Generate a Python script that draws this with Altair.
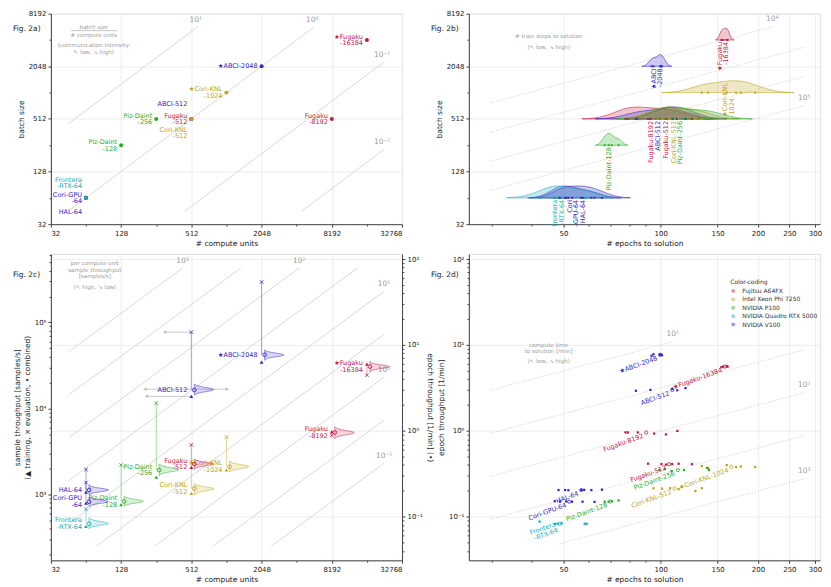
import altair as alt
import numpy as np
import pandas as pd

FONT = "DejaVu Sans"
GRAY = "#9b9b9b"
LINE_GRAY = "#c8c8c8"

# ---------------- data ----------------
system_names = ["Fujitsu A64FX", "Intel Xeon Phi 7250", "NVIDIA P100",
                "NVIDIA Quadro RTX 5000", "NVIDIA V100"]
system_colors = ["#c3173f", "#bba319", "#25ad25", "#19adb6", "#3522c4"]

configs = ["Fugaku-16384", "Fugaku-8192", "Fugaku-512", "ABCI-2048", "ABCI-512",
           "HAL-64", "Cori-GPU-64", "Cori-KNL-1024", "Cori-KNL-512",
           "Piz-Daint-256", "Piz-Daint-128", "Frontera-RTX-64"]
systems = ["Fujitsu A64FX"] * 3 + ["NVIDIA V100"] * 4 + ["Intel Xeon Phi 7250"] * 2 + \
          ["NVIDIA P100"] * 2 + ["NVIDIA Quadro RTX 5000"]
units = [16384, 8192, 512, 2048, 512, 64, 64, 1024, 512, 256, 128, 64]
batch = [4096, 512, 512, 2048, 512, 64, 64, 1024, 512, 512, 256, 64]

labels_ac = ["★Fugaku\n-16384", "Fugaku\n-8192", "Fugaku\n-512", "★ABCI-2048", "ABCI-512",
             "HAL-64", "Cori-GPU\n-64", "★Cori-KNL\n-1024", "Cori-KNL\n-512",
             "Piz-Daint\n-256", "Piz-Daint\n-128", "Frontera\n-RTX-64"]
place_a = ["left", "left", "left", "left", "above", "below", "left", "left", "below",
           "left", "left", "above"]

labels_b = ["★Fugaku\n-16384", "Fugaku-8192", "Fugaku-512", "★ABCI\n-2048", "ABCI-512",
            "HAL-64", "Cori\n-GPU-64", "★Cori-KNL\n-1024", "Cori-KNL-512",
            "Piz-Daint-256", "Piz-Daint-128", "Frontera\n-RTX-64"]
label_b_epochs = [156, 93, 104, 97.5, 98, 57.5, 53.5, 162, 110, 115, 69, 48.3]
label_b_batch = [4096, 512, 512, 2048, 512, 64, 64, 512, 512, 512, 256, 64]
label_b_dir = ["down"] * 7 + ["up"] + ["down"] * 4

labels_d = ["★Fugaku-16384", "Fugaku-8192", "Fugaku-512", "★ABCI-2048", "ABCI-512",
            "HAL-64", "Cori-GPU-64", "★Cori-KNL-1024", "Cori-KNL-512",
            "Piz-Daint-256", "Piz-Daint-128", "Frontera\n-RTX-64"]

# sample throughput [samples/s]
train_tput = [32700, 5370, 2060, 34400, 13800, 1060, 790, 1920, 1020, 1585, 755, 422]
eval_tput = [24300, 4840, 3760, 296000, 77000, 1940, 1370, 4630, 2400, 11500, 2190, 675]

# per-run epochs to solution and epoch throughput [1/min]
run_epochs = [
    [154, 156, 160, 161],
    [77.8, 79.1, 84.9, 95.4, 103.8, 112.6],
    [91.4, 100.5, 103.8, 108.6, 113.6, 124.9],
    [93.7, 95.0, 99.5, 100.2, 100.9],
    [83.8, 92.9, 108.6, 112.5, 119.3],
    [48.3, 50.6, 51.8, 56.8, 58, 61, 65.8],
    [47, 48.8, 51, 53.2, 57.3, 62.4],
    [134, 140, 160, 171, 177, 196],
    [95, 101, 107, 113.6, 128, 134],
    [99, 103, 108, 118, 139, 141],
    [67.1, 69.0, 70.6, 74.1],
    [42.2, 47.1, 48.0, 49.4, 58.2, 59.0],
]
run_thr = [
    [5.5, 5.6, 5.65, 5.6],
    [0.96, 0.96, 0.96, 0.93, 0.91, 1.0],
    [0.415, 0.41, 0.405, 0.41, 0.415, 0.41],
    [7.5, 7.8, 7.7, 7.7, 7.6],
    [2.93, 3.0, 3.09, 2.97, 3.15],
    [0.205, 0.205, 0.204, 0.205, 0.206, 0.205, 0.207],
    [0.152, 0.15, 0.151, 0.15, 0.15, 0.149],
    [0.39, 0.37, 0.40, 0.38, 0.385, 0.38],
    [0.215, 0.213, 0.215, 0.21, 0.2, 0.215],
    [0.35, 0.36, 0.34, 0.35, 0.37, 0.35],
    [0.15, 0.15, 0.152, 0.155],
    [0.088, 0.083, 0.083, 0.084, 0.083, 0.083],
]

TRAIN_SAMPLES = 262144
ALL_SAMPLES = 327680
SAMPLES_PER_EPOCHMIN = ALL_SAMPLES / 60.0

ratios_a = [10, 1, 0.1, 0.01]
ratios_a_lab = ["10¹", "10⁰", "10⁻¹", "10⁻²"]
steps_b = [1e4, 2.154e4, 4.642e4, 1e5]
steps_b_lab = ["10⁴", "", "", "10⁵"]
perunit_c = [1000, 316.2, 100, 31.62, 10, 3.162, 1, 0.3162, 0.1]
perunit_c_lab = ["10³", "", "10²", "", "10¹", "", "10⁰", "", "10⁻¹"]
time_d = [10, 31.62, 100, 316.2, 1000]
time_d_lab = ["10¹", "", "10²", "", "10³"]

arrow_y = [77000, 16700, 16700, 13800]
arrow_from = [512, 512, 560, 512]
arrow_to = [302, 205, 1040, 211]

# tick values
units_ticks = [32, 128, 512, 2048, 8192, 32768]
units_minor = [64, 256, 1024, 4096, 16384]
batch_ticks = [32, 128, 512, 2048, 8192]
batch_minor = [64, 256, 1024, 4096]
epoch_ticks = [50, 100, 150, 200, 250, 300]
epoch_minor = [30, 40, 60, 70, 80, 90]
samples_ticks = [1e3, 1e4, 1e5]
samples_minor = [200, 300, 400, 500, 600, 700, 800, 900,
                 2e3, 3e3, 4e3, 5e3, 6e3, 7e3, 8e3, 9e3,
                 2e4, 3e4, 4e4, 5e4, 6e4, 7e4, 8e4, 9e4,
                 2e5, 3e5, 4e5, 5e5, 6e5]
thr_ticks = [0.1, 1, 10, 100]
thr_minor = [0.04, 0.05, 0.06, 0.07, 0.08, 0.09,
             0.2, 0.3, 0.4, 0.5, 0.6, 0.7, 0.8, 0.9,
             2, 3, 4, 5, 6, 7, 8, 9,
             20, 30, 40, 50, 60, 70, 80, 90]

# ---------------- tables ----------------
base = pd.DataFrame(dict(config=configs, system=systems, units=units, batch=batch,
                         lab_ac=labels_ac, place=place_a, lab_d=labels_d,
                         train=train_tput, evalv=eval_tput))
base["med_epochs"] = [float(np.median(e)) for e in run_epochs]
base["med_thr"] = [float(np.median(t)) for t in run_thr]
base["med_samples"] = base["med_thr"] * SAMPLES_PER_EPOCHMIN

runs = pd.DataFrame([dict(config=c, system=s, units=u, batch=b, epochs=e, thr=t)
                     for c, s, u, b, es, ts in zip(configs, systems, units, batch, run_epochs, run_thr)
                     for e, t in zip(es, ts)])

blab = pd.DataFrame(dict(config=configs, system=systems, text=labels_b,
                         epochs=label_b_epochs, batch=label_b_batch, dir=label_b_dir))

conn = pd.concat([
    pd.DataFrame(dict(config=configs, system=systems, units=units, s=eval_tput, o=0)),
    pd.DataFrame(dict(config=configs, system=systems, units=units, s=list(base["med_samples"]), o=1)),
])

arrows = pd.DataFrame(dict(y=arrow_y, x0=arrow_from, x1=arrow_to))
arrows["head"] = np.where(arrows["x1"] < arrows["x0"], "triangle-left", "triangle-right")


def diag_df(ks, labs, xr, yr):
    rows = []
    for i, (k, lb) in enumerate(zip(ks, labs)):
        x0 = max(xr[0], yr[0] / k)
        x1 = min(xr[1], yr[1] / k)
        rows.append(dict(line=i, x=x0, y=x0 * k, lab="", end=0))
        rows.append(dict(line=i, x=x1, y=x1 * k, lab=lb, end=1))
    return pd.DataFrame(rows)


diag_a = diag_df(ratios_a, ratios_a_lab, (45, 23000), (45, 5800))
diag_b = diag_df([TRAIN_SAMPLES / s for s in steps_b], steps_b_lab, (29.7, 278), (45, 5800))
diag_c = diag_df(perunit_c, perunit_c_lab, (45.5, 23000), (247, 4.3e5))
diag_d = diag_df([1.0 / t for t in time_d], time_d_lab, (29.7, 278), (0.048, 10.9))

# ---------------- scales / axes ----------------
SUP = str.maketrans("-0123456789", "⁻⁰¹²³⁴⁵⁶⁷⁸⁹")


def sup(e):
    return "10" + str(e).translate(SUP)


def sup_expr(exps):
    parts = [f"abs(log(datum.value)/LN10 - ({e})) < 0.01 ? '{sup(e)}'" for e in exps]
    return " : ".join(parts) + " : ''"


sc_color = alt.Scale(domain=system_names, range=system_colors)
color_enc = alt.Color("system:N", scale=sc_color, legend=None)
stroke_enc = alt.Stroke("system:N", scale=sc_color, legend=None)

s_units = alt.Scale(type="log", base=2, domain=[32, 32768], nice=False)
s_batch = alt.Scale(type="log", base=2, domain=[32, 8192], nice=False)
s_epochs = alt.Scale(type="log", domain=[25.5, 311], nice=False)
s_samples = alt.Scale(type="log", domain=[170, 6.24e5], nice=False)
s_thr = alt.Scale(type="log", domain=[170 / SAMPLES_PER_EPOCHMIN, 6.24e5 / SAMPLES_PER_EPOCHMIN], nice=False)

ax_units = alt.Axis(orient="bottom", values=units_ticks, format="d", title="# compute units", grid=True)
ax_batch = alt.Axis(orient="left", values=batch_ticks, format="d", title="batch size", grid=True)
ax_epochs = alt.Axis(orient="bottom", values=epoch_ticks, format="d", title="# epochs to solution", grid=True)
ax_samples = alt.Axis(orient="left", values=samples_ticks, labelExpr=sup_expr([3, 4, 5]), grid=False,
                      title=["sample throughput [samples/s]", "(▲ training, × evaluation, • combined)"])
ax_thr_right = alt.Axis(orient="right", values=thr_ticks, labelExpr=sup_expr([-1, 0, 1, 2]),
                        title="epoch throughput [1/min] (•)", grid=True)
ax_thr_left = alt.Axis(orient="left", values=thr_ticks, labelExpr=sup_expr([-1, 0, 1, 2]),
                       title="epoch throughput [1/min]", grid=True)


def minor(orient, values):
    return alt.Axis(orient=orient, values=values, labels=False, grid=False, domain=False,
                    ticks=True, tickSize=1.8, title="")


one = pd.DataFrame({"k": [0]})
LH = 6.6
SINGLE = "indexof(datum.{f}, '\\n') < 0"
MULTI = "indexof(datum.{f}, '\\n') >= 0"


def note(text, x, y, size=5.6, color=GRAY, style="normal", align="center"):
    return alt.Chart(one).mark_text(text=text, align=align, baseline="middle", fontSize=size,
                                    color=color, font=FONT, fontStyle=style).encode(
        x=alt.value(x), y=alt.value(y))


def fig_label(text, x, y):
    return note(text, x, y, size=7.5, color="#222222", align="left")


def labels(df, field, x, y, filt=None, dy=0, **mk):
    """Two text layers: single-line labels and two-line labels centred on their anchor."""
    out = []
    for cond, shift in ((SINGLE, 0.0), (MULTI, -LH / 2)):
        c = alt.Chart(df)
        if filt:
            c = c.transform_filter(filt)
        c = c.transform_filter(cond.format(f=field)).mark_text(
            baseline="middle", fontSize=6.5, font=FONT, lineBreak="\n", lineHeight=LH,
            dy=dy + shift, **mk).encode(x=x, y=y, text=f"{field}:N", color=color_enc)
        out.append(c)
    return out


def diag_layers(df, xs, ys, xa, ya, dash=None, dy=-7, dx=0):
    """Reference lines (carrying the main axes) and their labels."""
    kw = dict(color=LINE_GRAY, strokeWidth=0.7)
    if dash is not None:
        kw["strokeDash"] = dash
    line = alt.Chart(df).mark_line(**kw).encode(
        x=alt.X("x:Q", scale=xs, axis=xa), y=alt.Y("y:Q", scale=ys, axis=ya), detail="line:N")
    txt = alt.Chart(df).transform_filter("datum.end == 1 && datum.lab != ''").mark_text(
        color=GRAY, fontSize=7.5, font=FONT, dy=dy, dx=dx).encode(
        x=alt.X("x:Q", scale=xs, axis=None), y=alt.Y("y:Q", scale=ys, axis=None), text="lab:N")
    return [line, txt]


def minor_layer(df, xs, ys, xa, ya):
    return alt.Chart(df).mark_point(opacity=0, size=1).encode(
        x=alt.X("x:Q", scale=xs, axis=xa), y=alt.Y("y:Q", scale=ys, axis=ya))


W, H1, H2 = 352, 211, 307

# ---------------- panel a ----------------
xa = alt.X("units:Q", scale=s_units, axis=None)
ya = alt.Y("batch:Q", scale=s_batch, axis=None)
pts_a = alt.Chart(base).mark_circle(size=16, opacity=1).encode(x=xa, y=ya, color=color_enc)

frac_rule = alt.Chart(one).mark_rule(color=GRAY, strokeWidth=0.6).encode(
    x=alt.value(20), x2=alt.value(66), y=alt.value(17))
panel_a = alt.layer(
    *diag_layers(diag_a, s_units, s_batch, ax_units, ax_batch, dx=-2),
    minor_layer(diag_a, s_units, s_batch, minor("bottom", units_minor), minor("left", batch_minor)),
    pts_a,
    *labels(base, "lab_ac", xa, ya, "datum.place == 'left'", 0, align="right", dx=-4),
    *labels(base, "lab_ac", xa, ya, "datum.place == 'above'", -15, align="right", dx=-4),
    *labels(base, "lab_ac", xa, ya, "datum.place == 'below'", 14, align="right", dx=-4),
    note("batch size", 43, 13, style="italic"), frac_rule,
    note("# compute units", 43, 21, style="italic"),
    note("(communication intensity:", 43, 31),
    note("↖ low, ↘ high)", 43, 38),
    fig_label("Fig. 2a)", -38, 15),
).resolve_axis(x="independent", y="independent").properties(width=W, height=H1)

# ---------------- panel b ----------------
xb = alt.X("epochs:Q", scale=s_epochs, axis=None)
yb = alt.Y("batch:Q", scale=s_batch, axis=None)
dens_b = alt.Chart(runs).transform_calculate(
    le="log(datum.epochs)/LN2"
).transform_density(
    "le", groupby=["config", "system", "batch"], extent=[float(np.log2(25.5)), float(np.log2(311))],
    steps=400, as_=["le", "density"]
).transform_joinaggregate(
    dmax="max(density)", groupby=["config"]
).transform_calculate(
    h="datum.density / datum.dmax", ep="pow(2, datum.le)",
    top="datum.batch * pow(2, 0.45 * datum.density / datum.dmax)"
).transform_filter("datum.h > 0.01").mark_area(
    fillOpacity=0.25, strokeWidth=0.7, strokeOpacity=0.85, clip=True
).encode(
    x=alt.X("ep:Q", scale=s_epochs, axis=None),
    y=alt.Y("top:Q", scale=s_batch, axis=None), y2="batch:Q",
    color=color_enc, stroke=stroke_enc, detail="config:N")
dots_b = alt.Chart(runs).mark_point(shape="square", filled=True, size=4, opacity=0.9).encode(
    x=xb, y=yb, color=color_enc)

panel_b = alt.layer(
    *diag_layers(diag_b, s_epochs, s_batch, ax_epochs, ax_batch, dash=[1.5, 1.5], dy=-8),
    minor_layer(diag_b, s_epochs, s_batch, minor("bottom", epoch_minor), minor("left", batch_minor)),
    dens_b, dots_b,
    *labels(blab, "text", xb, yb, "datum.dir == 'down'", 0, angle=270, align="right", dx=-2),
    *labels(blab, "text", xb, yb, "datum.dir == 'up'", 0, angle=270, align="left", dx=2),
    note("# train steps to solution", 80, 22),
    note("(↖ low, ↘ high)", 80, 33),
    fig_label("Fig. 2b)", -38, 15),
).resolve_axis(x="independent", y="independent").properties(width=W, height=H1)

# ---------------- panel c ----------------
xc = alt.X("units:Q", scale=s_units, axis=None)
arrow_rule = alt.Chart(arrows).mark_rule(color="#bdbdbd", strokeWidth=0.8).encode(
    x=alt.X("x0:Q", scale=s_units, axis=None), x2="x1:Q",
    y=alt.Y("y:Q", scale=s_samples, axis=None))
arrow_head = alt.Chart(arrows).mark_point(filled=True, size=14, color="#bdbdbd", opacity=1).encode(
    x=alt.X("x1:Q", scale=s_units, axis=None),
    y=alt.Y("y:Q", scale=s_samples, axis=None),
    shape=alt.Shape("head:N", scale=None))
conn_c = alt.Chart(conn).mark_line(strokeWidth=0.7, opacity=0.6).encode(
    x=xc, y=alt.Y("s:Q", scale=s_samples, axis=None), color=color_enc,
    detail="config:N", order="o:Q")
tri_c = alt.Chart(base).mark_point(shape="triangle-up", filled=True, size=14, opacity=1).encode(
    x=xc, y=alt.Y("train:Q", scale=s_samples, axis=None), color=color_enc)
x_c = alt.Chart(base).mark_point(shape="M-1,-1L1,1M-1,1L1,-1", filled=False, size=12,
                                 strokeWidth=0.9, opacity=0.9).encode(
    x=xc, y=alt.Y("evalv:Q", scale=s_samples, axis=None), color=color_enc)
yc_lab = alt.Y("med_samples:Q", scale=s_samples, axis=None)
left_c = alt.layer(
    *diag_layers(diag_c, s_units, s_samples, ax_units, ax_samples, dy=-7),
    minor_layer(diag_c, s_units, s_samples, minor("bottom", units_minor), minor("left", samples_minor)),
    arrow_rule, arrow_head, conn_c, tri_c, x_c,
    *labels(base, "lab_ac", xc, yc_lab, None, 0, align="right", dx=-4),
    note("per compute unit", 44, 9),
    note("sample throughput", 44, 15.5),
    note("[samples/s]", 44, 22),
    note("(↖ high, ↘ low)", 44, 33),
    fig_label("Fig. 2c)", -38, 21),
).resolve_axis(x="independent", y="independent")
dens_c = alt.Chart(runs).transform_calculate(
    lt="log(datum.thr)/LN10"
).transform_density(
    "lt", groupby=["config", "system", "units"], bandwidth=0.02,
    extent=[-1.5, 2.05], steps=500, as_=["lt", "density"]
).transform_joinaggregate(
    dmax="max(density)", groupby=["config"]
).transform_calculate(
    h="datum.density / datum.dmax", tv="pow(10, datum.lt)",
    xr="datum.units * pow(2, 0.55 * datum.density / datum.dmax)"
).transform_filter("datum.h > 0.01").mark_area(
    orient="horizontal", fillOpacity=0.18, strokeWidth=0.6, strokeOpacity=0.8, xOffset=3, x2Offset=3
).encode(
    y=alt.Y("tv:Q", scale=s_thr, axis=ax_thr_right),
    x=alt.X("xr:Q", scale=s_units, axis=None), x2="units:Q",
    color=color_enc, stroke=stroke_enc, detail="config:N")
circ_c = alt.Chart(base).mark_point(shape="circle", filled=False, size=14, strokeWidth=0.9,
                                    xOffset=3, opacity=1).encode(
    x=xc, y=alt.Y("med_thr:Q", scale=s_thr, axis=None), color=color_enc)
minor_c_right = alt.Chart(base).mark_point(opacity=0, size=1).encode(
    x=xc, y=alt.Y("med_thr:Q", scale=s_thr, axis=minor("right", thr_minor)))
right_c = alt.layer(dens_c, minor_c_right, circ_c).resolve_axis(y="independent")
panel_c = alt.layer(left_c, right_c).resolve_scale(y="independent").resolve_axis(
    x="independent").properties(width=W, height=H2)

# ---------------- panel d ----------------
legend_d = alt.Legend(title="Color-coding", orient="none", legendX=262, legendY=25,
                      symbolType="circle", symbolSize=16, symbolOpacity=0.45, symbolStrokeWidth=0,
                      labelFontSize=6, titleFontSize=6, titleFontWeight="normal",
                      labelFont=FONT, titleFont=FONT, rowPadding=2.4, padding=0, titlePadding=3,
                      labelColor="#333333", titleColor="#333333", labelOffset=6)
xd = alt.X("epochs:Q", scale=s_epochs, axis=None)
dots_d = alt.Chart(runs).mark_point(shape="square", filled=True, size=5, opacity=1).encode(
    x=xd, y=alt.Y("thr:Q", scale=s_thr, axis=None),
    color=alt.Color("system:N", scale=sc_color, legend=legend_d))
xd_m = alt.X("med_epochs:Q", scale=s_epochs, axis=None)
yd_m = alt.Y("med_thr:Q", scale=s_thr, axis=None)
circ_d = alt.Chart(base).mark_point(shape="circle", filled=False, size=10, strokeWidth=0.8, opacity=1).encode(
    x=xd_m, y=yd_m, color=color_enc)
panel_d = alt.layer(
    *diag_layers(diag_d, s_epochs, s_thr, ax_epochs, ax_thr_left, dash=[1.5, 1.5], dy=-8),
    minor_layer(diag_d, s_epochs, s_thr, minor("bottom", epoch_minor), minor("left", thr_minor)),
    dots_d, circ_d,
    *labels(base, "lab_d", xd_m, yd_m, None, 2, angle=340, align="right", dx=-4),
    note("compute time", 80, 91),
    note("to solution [/min]", 80, 97.5),
    note("(↖ low, ↘ high)", 80, 107),
    fig_label("Fig. 2d)", -38, 21),
).resolve_axis(x="independent", y="independent").properties(width=W, height=H2)

chart = alt.concat(
    panel_a, panel_b, panel_c, panel_d, columns=2, bounds="flush",
    spacing={"row": 30, "column": 67}
).resolve_scale(
    color="independent", stroke="independent", x="independent", y="independent"
).resolve_legend(
    color="independent", stroke="independent"
).properties(
    padding={"left": 4, "top": 0, "right": 0, "bottom": 0}
).configure(font=FONT).configure_view(
    stroke="#d4d4d4", strokeWidth=0.8
).configure_axis(
    labelFont=FONT, titleFont=FONT, labelFontSize=7, titleFontSize=7.5, titleFontWeight="normal",
    labelColor="#222222", titleColor="#222222", domainColor="#444444", tickColor="#444444",
    tickSize=3, gridColor="#e8e8e8", gridWidth=0.8, labelPadding=2, titlePadding=3
)

chart.save("out.html", embed_options={"renderer": "svg", "actions": False})
